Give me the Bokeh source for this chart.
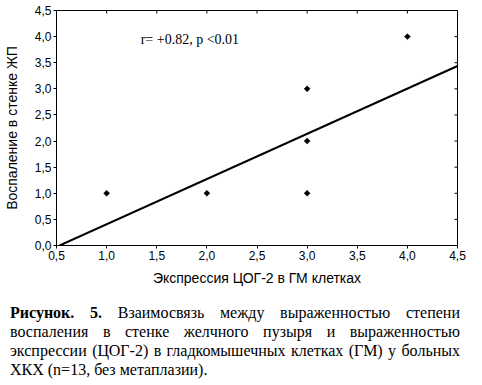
import math
from bokeh.plotting import figure
from bokeh.models import Range1d, FixedTicker, Div, Label
from bokeh.layouts import column
from bokeh.embed import file_html
from bokeh.resources import INLINE

# ---- data ----
cox2_expression = [1, 2, 3, 3, 3, 4]
inflammation = [1, 1, 1, 2, 3, 4]
reg_slope = 0.866
reg_intercept = -0.46
x_ticks = [0.5, 1.0, 1.5, 2.0, 2.5, 3.0, 3.5, 4.0, 4.5]
x_tick_labels = ["0,5", "1,0", "1,5", "2,0", "2,5", "3,0", "3,5", "4,0", "4,5"]
y_ticks = [0.0, 0.5, 1.0, 1.5, 2.0, 2.5, 3.0, 3.5, 4.0, 4.5]
y_tick_labels = ["0,0", "0,5", "1,0", "1,5", "2,0", "2,5", "3,0", "3,5", "4,0", "4,5"]
x_label = "Экспрессия ЦОГ-2 в ГМ клетках"
y_label = "Воспаление в стенке ЖП"
annotation_text = "r= +0.82, p <0.01"
annotation_x = 1.34
annotation_y = 3.95
caption_bold = "Рисунок. 5."
caption_lines = [
    "Взаимосвязь между выраженностью степени",
    "воспаления в стенке желчного пузыря и выраженностью",
    "экспрессии (ЦОГ-2) в гладкомышечных клетках (ГМ) у больных",
    "ХКХ (n=13, без метаплазии).",
]

X_MIN, X_MAX = 0.5, 4.5
Y_MIN, Y_MAX = 0.0, 4.5

p = figure(width=475, height=288, output_backend="svg", toolbar_location=None,
           x_range=Range1d(X_MIN, X_MAX), y_range=Range1d(Y_MIN, Y_MAX),
           min_border_left=52, min_border_right=18, min_border_top=10, min_border_bottom=42,
           background_fill_color="white", border_fill_color="white")
p.margin = 0
p.xgrid.visible = False
p.ygrid.visible = False
p.outline_line_color = "black"
p.outline_line_width = 1
p.outline_line_alpha = 1.0

TICK_FONT = "Liberation Sans"

def style_axis(ax, ticks, labels, label_text):
    ax.ticker = FixedTicker(ticks=ticks)
    ax.major_label_overrides = {t: l for t, l in zip(ticks, labels)}
    ax.axis_line_color = "black"
    ax.major_tick_line_color = "black"
    ax.major_tick_out = 3
    ax.major_tick_in = 0
    ax.minor_tick_out = 0
    ax.minor_tick_in = 0
    ax.major_label_standoff = 2
    ax.major_label_text_font = TICK_FONT
    ax.major_label_text_font_size = "12px"
    ax.major_label_text_color = "black"
    ax.axis_label = label_text
    ax.axis_label_text_font = TICK_FONT
    ax.axis_label_text_font_size = "14px"
    ax.axis_label_text_font_style = "normal"
    ax.axis_label_text_color = "black"

style_axis(p.xaxis[0], x_ticks, x_tick_labels, x_label)
p.xaxis[0].axis_label_standoff = 7
style_axis(p.yaxis[0], y_ticks, y_tick_labels, y_label)
p.yaxis[0].axis_label_standoff = 12

# inward ticks on the top and right edges of the frame
p.ray(x=x_ticks, y=[Y_MAX] * len(x_ticks), length=3, angle=-math.pi / 2,
      length_units="screen", line_color="black", line_width=1)
p.ray(x=[X_MAX] * len(y_ticks), y=y_ticks, length=3, angle=math.pi,
      length_units="screen", line_color="black", line_width=1)

# regression line from where it crosses y=0 to the right edge
x_start = -reg_intercept / reg_slope
line_x = [x_start, X_MAX]
line_y = [reg_slope * x + reg_intercept for x in line_x]
p.line(line_x, line_y, line_color="black", line_width=2)

p.scatter(cox2_expression, inflammation, marker="square", angle=math.pi / 4,
          size=4.2, fill_color="black", line_color="black", line_width=0.5)

p.add_layout(Label(x=annotation_x, y=annotation_y, text=annotation_text,
                   text_font="Liberation Serif", text_font_size="14px",
                   text_color="black", text_baseline="middle", text_align="left"))

just = "text-align:justify;text-align-last:justify;"
rows = []
for i, line in enumerate(caption_lines):
    style = just if i < len(caption_lines) - 1 else "text-align:left;"
    content = line if i > 0 else "<b>%s</b> %s" % (caption_bold, line)
    rows.append('<div style="%s white-space:nowrap;">%s</div>' % (style, content))
html_text = ('<div style="font-family:\'Liberation Serif\',\'Times New Roman\',serif;'
             'font-size:16px;line-height:19px;color:black;padding:15px 2px 0 10px;'
             'width:462px;">' + "".join(rows) + '</div>')
div = Div(text=html_text, width=474, margin=0)

layout = column(p, div, margin=0, spacing=0)
html = file_html(layout, INLINE)
html = html.replace("<head>", "<head><style>html,body{overflow:hidden;}</style>", 1)
open("out.html", "w").write(html)
